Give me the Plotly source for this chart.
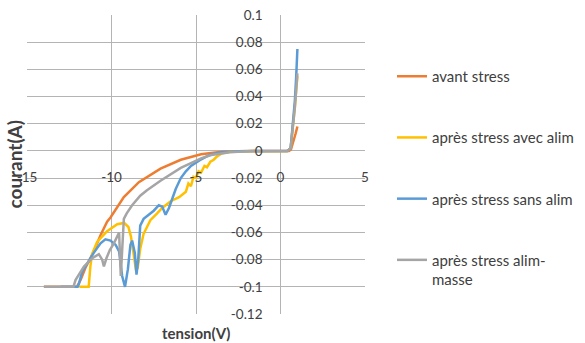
import plotly.graph_objects as go

# ---------------- data ----------------
series_names = ["avant stress", "après stress avec alim", "après stress sans alim",
                "après stress alim-<br>masse"]
series_colors = ["#ED7D31", "#FFC000", "#5B9BD5", "#A5A5A5"]

v_avant = [-14.0, -12.05, -11.83, -11.54, -11.05, -10.65, -10.26, -10.06, -9.27, -8.38,
           -7.1, -5.9, -5.3, -4.7, -3.5, -2.5, 0.0, 0.5, 0.62, 0.8, 0.9, 1.0]
i_avant = [-0.100, -0.100, -0.095, -0.086, -0.074, -0.062, -0.052, -0.049, -0.034, -0.023,
           -0.013, -0.0065, -0.0045, -0.0025, -0.0007, -0.0002, 0.0, 0.0, 0.001, 0.008, 0.013, 0.018]

v_avec = [-11.9, -11.35, -11.25, -11.15, -10.85, -10.26, -9.66, -9.25, -9.0, -8.85, -8.7,
          -8.55, -8.45, -8.3, -8.1, -7.7, -7.3, -7.0, -6.5, -6.0, -5.6, -5.45, -5.3, -5.15,
          -5.0, -4.85, -4.7, -4.5, -4.35, -4.15, -3.95, -3.75, -3.5, -3.0, -2.0, 0.0, 0.4,
          0.6, 0.75, 0.85, 0.93, 1.0]
i_avec = [-0.100, -0.100, -0.085, -0.076, -0.067, -0.059, -0.054, -0.053, -0.056, -0.063,
          -0.075, -0.088, -0.086, -0.072, -0.061, -0.051, -0.046, -0.042, -0.037, -0.034,
          -0.030, -0.024, -0.026, -0.019, -0.020, -0.015, -0.016, -0.011, -0.012, -0.008,
          -0.0065, -0.004, -0.002, -0.0007, -0.0002, 0.0, 0.0, 0.002, 0.018, 0.032, 0.045, 0.055]

v_sans = [-13.0, -12.0, -11.93, -11.74, -11.44, -11.05, -10.65, -10.36, -10.06, -9.76,
          -9.55, -9.37, -9.2, -9.03, -8.88, -8.78, -8.62, -8.52, -8.42, -8.3, -8.1, -7.9,
          -7.5, -7.2, -7.0, -6.8, -6.6, -6.4, -6.2, -5.9, -5.6, -5.3, -4.8, -4.2, -3.5,
          -2.5, 0.0, 0.4, 0.6, 0.75, 0.85, 0.93, 1.0]
i_sans = [-0.100, -0.100, -0.098, -0.089, -0.083, -0.075, -0.068, -0.065, -0.066, -0.069,
          -0.074, -0.092, -0.100, -0.087, -0.069, -0.066, -0.075, -0.091, -0.080, -0.055,
          -0.050, -0.048, -0.044, -0.040, -0.041, -0.047, -0.042, -0.035, -0.028, -0.020,
          -0.015, -0.011, -0.007, -0.003, -0.001, -0.0002, 0.0, 0.0, 0.002, 0.020, 0.037,
          0.055, 0.075]

v_masse = [-14.0, -12.25, -12.13, -11.83, -11.63, -11.14, -10.75, -10.55, -10.45, -10.3,
           -10.1, -9.86, -9.66, -9.55, -9.45, -9.3, -9.27, -9.1, -8.78, -8.3, -7.9, -7.1,
           -6.5, -5.9, -5.3, -4.7, -4.1, -3.0, -2.0, 0.0, 0.4, 0.6, 0.75, 0.85, 0.93, 1.0]
i_masse = [-0.100, -0.100, -0.095, -0.089, -0.085, -0.079, -0.076, -0.080, -0.085, -0.079,
           -0.073, -0.068, -0.062, -0.060, -0.092, -0.060, -0.050, -0.046, -0.040, -0.033,
           -0.029, -0.022, -0.017, -0.0125, -0.009, -0.0055, -0.003, -0.001, -0.0002, 0.0,
           0.0, 0.002, 0.018, 0.032, 0.045, 0.057]

x_ticks = [-15, -10, -5, 0, 5]
x_tick_labels = ["-15", "-10", "-5", "0", "5"]
y_ticks = [0.1, 0.08, 0.06, 0.04, 0.02, 0, -0.02, -0.04, -0.06, -0.08, -0.1, -0.12]
y_tick_labels = ["0.1", "0.08", "0.06", "0.04", "0.02", "0", "-0.02", "-0.04", "-0.06",
                 "-0.08", "-0.1", "-0.12"]
x_title = "tension(V)"
y_title = "courant(A)"

xs = [v_avant, v_avec, v_sans, v_masse]
ys = [i_avant, i_avec, i_sans, i_masse]

# ---------------- figure ----------------
W, H = 585, 343
ML, MR, MT, MB = 27, 220, 15, 29
XR = [-15, 5]
YR = [-0.12, 0.1]

FONT = "Lato, sans-serif"
TXT = "#404040"
GRID = "#B4B4B4"

fig = go.Figure()
for k in range(4):
    fig.add_trace(go.Scatter(
        x=xs[k], y=ys[k], mode="lines", name=series_names[k],
        legendgroup="g%d" % k,
        line=dict(color=series_colors[k], width=2.5),
    ))

xpos = (0 - YR[0]) / (YR[1] - YR[0])
ypos = (0 - XR[0]) / (XR[1] - XR[0])

fig.update_layout(
    width=W, height=H,
    margin=dict(l=ML, r=MR, t=MT, b=MB, autoexpand=False),
    paper_bgcolor="white", plot_bgcolor="white",
    font=dict(family=FONT, size=13, color=TXT),
    xaxis=dict(range=XR, tickvals=x_ticks, ticktext=x_tick_labels, automargin=False,
               anchor="free", position=xpos, showgrid=True, gridcolor=GRID, gridwidth=1,
               zeroline=False, showline=False, ticks="", ticklabelstandoff=17,
               tickfont=dict(family=FONT, size=13.5, color=TXT)),
    yaxis=dict(range=YR, tickvals=y_ticks, ticktext=y_tick_labels, automargin=False,
               anchor="free", position=ypos, showgrid=True, gridcolor=GRID, gridwidth=1,
               zeroline=False, showline=False, ticks="", ticklabelstandoff=18,
               tickfont=dict(family=FONT, size=13.5, color=TXT)),
    legend=dict(xref="container", yref="container", x=392 / W, y=1 - 60 / H,
                xanchor="left", yanchor="top", tracegroupgap=38.7, valign="top",
                maxheight=320,
                font=dict(family=FONT, size=15, color=TXT), bgcolor="rgba(0,0,0,0)"),
    showlegend=True,
)

fig.add_annotation(text="<b>%s</b>" % x_title, xref="paper", yref="paper",
                   x=0.5, y=-(333 - (H - MB)) / (H - MT - MB), xanchor="center", yanchor="middle",
                   showarrow=False, font=dict(family=FONT, size=15, color=TXT))
fig.add_annotation(text="<b>%s</b>" % y_title, xref="paper", yref="paper",
                   x=-(ML - 14) / (W - ML - MR), y=0.5, xanchor="center", yanchor="middle",
                   textangle=-90, showarrow=False,
                   font=dict(family=FONT, size=19, color=TXT))

fig.write_html("out.html", config={"displayModeBar": False},
               post_script="document.body.style.margin='0px';document.body.style.padding='0px';")
